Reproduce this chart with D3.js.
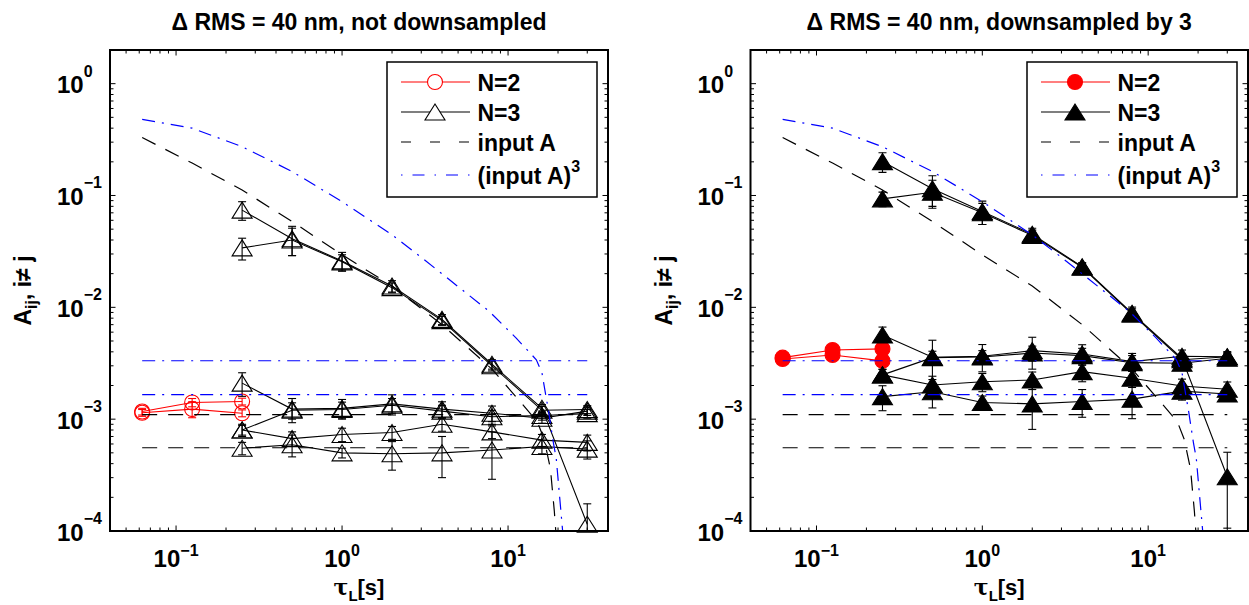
<!DOCTYPE html>
<html>
<head>
<meta charset="utf-8">
<script src="https://cdn.jsdelivr.net/npm/d3@7"></script>
<style>
  body { margin: 0; background: #fff; }
  svg text { font-family: "Liberation Sans", Arial, Helvetica, sans-serif; font-weight: bold; fill: #000; }
  svg text.tick { font-family: "Liberation Sans Narrow", "Arial Narrow", "Liberation Sans", sans-serif; }
</style>
</head>
<body>
<svg id="fig" width="1249" height="605"></svg>
<script>
// ---- sampling times (s) ----
const tauN2 = [0.0625, 0.125, 0.25];
const tauN3 = [0.25, 0.5, 1, 2, 4, 8, 16, 30];

// ---- not downsampled: off-diagonal A_ij ----
const rawN2 = [
  [1.17e-3, 1.41e-3, 1.44e-3],
  [1.14e-3, 1.23e-3, 1.13e-3]
];
const rawN2Err = [
  [0.8e-4, 1.2e-4, 1.0e-4],
  [0.8e-4, 2.0e-4, 0.8e-4]
];
const rawN3 = [
  [0.074, 0.041, 0.026, 0.0155, 0.0078, 0.0031, 0.00125, 0.000115],
  [0.034, 0.040, 0.0255, 0.0150, 0.0076, 0.0030, 0.00120, 0.00122],
  [0.0021, 0.00123, 0.00125, 0.00137, 0.00123, 0.00113, 0.00102, 0.00118],
  [0.00080, 0.00120, 0.00122, 0.00133, 0.00118, 0.00105, 0.00108, 0.00112],
  [0.00080, 0.00067, 0.00073, 0.00076, 0.00090, 0.00077, 0.00065, 0.00062],
  [0.00055, 0.00059, 0.00050, 0.00049, 0.00050, 0.00053, 0.00057, 0.00054]
];
const rawN3Err = [
  [0.014, 0.012, 0.005, 0.0018, 0.0008, 0.0003, 0.0001, 0.00006],
  [0.0075, 0.011, 0.004, 0.0015, 0.0007, 0.0003, 0.0001, 0.0001],
  [0.0005, 0.0003, 0.00025, 0.00028, 0.0002, 0.00018, 0.0001, 0.0001],
  [0.0001, 0.0002, 0.0002, 0.0002, 0.00015, 0.00015, 0.0001, 0.0001],
  [0.00008, 0.0001, 0.0001, 0.0001, 0.00012, 0.0001, 0.00008, 0.0001],
  [0.00007, 0.00013, 0.00005, 0.00014, 0.0002, 0.00024, 0.00008, 0.0001]
];

// ---- downsampled by 3: off-diagonal A_ij ----
const dsN2 = [
  [3.55e-3, 4.16e-3, 4.25e-3],
  [3.45e-3, 3.75e-3, 3.32e-3]
];
const dsN2Err = [
  [2e-4, 3e-4, 3e-4],
  [2e-4, 4e-4, 2e-4]
];
const dsN3 = [
  [0.201, 0.115, 0.072, 0.045, 0.0231, 0.00885, 0.0035, 0.000306],
  [0.0933, 0.107, 0.070, 0.044, 0.0228, 0.0087, 0.0034, 0.00362],
  [0.00566, 0.00358, 0.00365, 0.0041, 0.00383, 0.00327, 0.00365, 0.00362],
  [0.00249, 0.00355, 0.00360, 0.0039, 0.0037, 0.0032, 0.00316, 0.0035],
  [0.00249, 0.00202, 0.00216, 0.00224, 0.00266, 0.00232, 0.00198, 0.00185],
  [0.00159, 0.00176, 0.00141, 0.00137, 0.00144, 0.00151, 0.00178, 0.00168]
];
const dsN3Err = [
  [0.04, 0.035, 0.017, 0.006, 0.002, 0.0012, 0.0003, 0.0002],
  [0.014, 0.03, 0.015, 0.005, 0.002, 0.001, 0.0003, 0.0003],
  [0.001, 0.0015, 0.001, 0.0013, 0.0008, 0.0006, 0.0005, 0.0004],
  [0.0003, 0.0005, 0.0005, 0.0006, 0.0006, 0.0005, 0.0004, 0.0004],
  [0.0003, 0.0004, 0.0004, 0.0004, 0.0005, 0.0004, 0.0003, 0.0003],
  [0.0004, 0.0005, 0.0002, 0.00056, 0.0004, 0.0005, 0.0003, 0.0002]
];

// ---- input coupling curves ----
const inputTau = [0.0625, 0.125, 0.25, 0.5, 1, 2, 4, 8, 12, 15, 16.5, 18, 19, 19.6];
const inputA   = [0.33, 0.195, 0.112, 0.0585, 0.0295, 0.0155, 0.0070, 0.0028, 0.0014, 0.00095, 0.00066, 0.00036, 0.00015, 0.00008];
const cubeTau  = [0.0625, 0.125, 0.25, 0.5, 1, 2, 3, 5.3, 7.7, 11.2, 14.8, 16, 16.8, 17.5, 18.8, 19.5, 21.2, 21.6];
const inputA3  = [0.48, 0.40, 0.273, 0.164, 0.088, 0.0445, 0.028, 0.0143, 0.0092, 0.0053, 0.0034, 0.0026, 0.0017, 0.0012, 0.0006, 0.00045, 0.00011, 0.00008];
const levelTau    = [0.0625, 30];
const inputLevels = [1.10e-3, 5.55e-4];
const cubeLevels  = [3.33e-3, 1.66e-3];

const xDomain = [0.04, 40];
const yDomain = [1e-4, 2];
const xMajor = [0.1, 1, 10];
const yMajor = [1e-4, 1e-3, 1e-2, 1e-1, 1];

const legendLabels = ["N=2", "N=3", "input A", "(input A)"];

const panels = [
  { id: "raw", left: 110, right: 608, title: "Δ RMS = 40 nm, not downsampled",
    n2: rawN2, n2Err: rawN2Err, n3: rawN3, n3Err: rawN3Err, filled: false },
  { id: "ds", left: 750.5, right: 1248, title: "Δ RMS = 40 nm, downsampled by 3",
    n2: dsN2, n2Err: dsN2Err, n3: dsN3, n3Err: dsN3Err, filled: true }
];

const TOP = 50, BOTTOM = 531;
const RED = "#ff0000", BLUE = "#0000ff";
const DASH = "15,11", DASHDOT = "13,7,2,7";

const svg = d3.select("#fig");

function triPath(cx, cy) {
  return `M${cx},${cy - 8}L${cx + 10},${cy + 8}L${cx - 10},${cy + 8}Z`;
}

panels.forEach(p => {
  const x = d3.scaleLog().domain(xDomain).range([p.left, p.right]);
  const y = d3.scaleLog().domain(yDomain).range([BOTTOM, TOP]);
  const g = svg.append("g");

  g.append("clipPath").attr("id", "clip-" + p.id)
    .append("rect").attr("x", p.left).attr("y", TOP)
    .attr("width", p.right - p.left).attr("height", BOTTOM - TOP);
  const plot = g.append("g").attr("clip-path", `url(#clip-${p.id})`);
  const line = d3.line().x(d => x(d[0])).y(d => y(d[1]));

  // error bars + connecting lines
  function series(taus, vals, errs, color) {
    vals.forEach((row, i) => {
      const pts = taus.map((t, k) => [t, row[k]]);
      plot.append("path").attr("d", line(pts))
        .attr("fill", "none").attr("stroke", color).attr("stroke-width", 1.1);
      taus.forEach((t, k) => {
        const v = row[k], e = errs[i][k];
        const lo = Math.max(v - e, 1e-6), hi = v + e;
        const cx = x(t);
        const eg = plot.append("g").attr("stroke", color).attr("stroke-width", 1.1);
        eg.append("line").attr("x1", cx).attr("x2", cx).attr("y1", y(lo)).attr("y2", y(hi));
        eg.append("line").attr("x1", cx - 4).attr("x2", cx + 4).attr("y1", y(lo)).attr("y2", y(lo));
        eg.append("line").attr("x1", cx - 4).attr("x2", cx + 4).attr("y1", y(hi)).attr("y2", y(hi));
      });
    });
  }
  series(tauN2, p.n2, p.n2Err, RED);
  series(tauN3, p.n3, p.n3Err, "#000");

  // markers (not clipped)
  const mk = g.append("g");
  p.n2.forEach(row => row.forEach((v, k) => {
    mk.append("circle").attr("cx", x(tauN2[k])).attr("cy", y(v)).attr("r", 7.5)
      .attr("fill", p.filled ? RED : "none").attr("stroke", RED).attr("stroke-width", 1.1);
  }));
  p.n3.forEach(row => row.forEach((v, k) => {
    mk.append("path").attr("d", triPath(x(tauN3[k]), y(v)))
      .attr("fill", p.filled ? "#000" : "none").attr("stroke", "#000").attr("stroke-width", 1.1);
  }));

  // input A (dashed) and (input A)^3 (dash-dot)
  const ref = g.append("g").attr("clip-path", `url(#clip-${p.id})`);
  ref.append("path").attr("d", line(inputTau.map((t, i) => [t, inputA[i]])))
    .attr("fill", "none").attr("stroke", "#000").attr("stroke-width", 1.2).attr("stroke-dasharray", DASH);
  inputLevels.forEach(v => {
    ref.append("path").attr("d", line(levelTau.map(t => [t, v])))
      .attr("fill", "none").attr("stroke", "#000").attr("stroke-width", 1.2).attr("stroke-dasharray", DASH);
  });
  ref.append("path").attr("d", line(cubeTau.map((t, i) => [t, inputA3[i]])))
    .attr("fill", "none").attr("stroke", BLUE).attr("stroke-width", 1.2).attr("stroke-dasharray", DASHDOT);
  cubeLevels.forEach(v => {
    ref.append("path").attr("d", line(levelTau.map(t => [t, v])))
      .attr("fill", "none").attr("stroke", BLUE).attr("stroke-width", 1.2).attr("stroke-dasharray", DASHDOT);
  });

  // ticks on all four sides, pointing inward
  const tk = g.append("g").attr("stroke", "#000").attr("stroke-width", 1);
  x.ticks().forEach(t => {
    const major = xMajor.some(m => Math.abs(m - t) / m < 1e-6);
    const len = major ? 5.5 : 3.5, cx = x(t);
    tk.append("line").attr("x1", cx).attr("x2", cx).attr("y1", BOTTOM).attr("y2", BOTTOM - len);
    tk.append("line").attr("x1", cx).attr("x2", cx).attr("y1", TOP).attr("y2", TOP + len);
  });
  y.ticks().forEach(t => {
    const major = yMajor.some(m => Math.abs(m - t) / m < 1e-6);
    const len = major ? 5.5 : 3.5, cy = y(t);
    tk.append("line").attr("x1", p.left).attr("x2", p.left + len).attr("y1", cy).attr("y2", cy);
    tk.append("line").attr("x1", p.right).attr("x2", p.right - len).attr("y1", cy).attr("y2", cy);
  });

  // frame
  g.append("rect").attr("x", p.left).attr("y", TOP)
    .attr("width", p.right - p.left).attr("height", BOTTOM - TOP)
    .attr("fill", "none").attr("stroke", "#000").attr("stroke-width", 2);

  // tick labels
  const expText = t => String(Math.round(Math.log10(t))).replace("-", "\u2212");
  xMajor.forEach(t => {
    const tx = g.append("text").attr("class", "tick").attr("x", x(t)).attr("y", 567)
      .attr("text-anchor", "middle").style("font-size", "24px");
    tx.append("tspan").text("10");
    tx.append("tspan").attr("dy", -11).style("font-size", "16px").text(expText(t));
  });
  yMajor.forEach(t => {
    const ty = g.append("text").attr("class", "tick").attr("x", p.left - 53).attr("y", y(t) + 9.5)
      .attr("text-anchor", "start").style("font-size", "24px");
    ty.append("tspan").text("10");
    ty.append("tspan").attr("dy", -16.5).style("font-size", "16px").text(expText(t));
  });

  // axis titles
  const cxMid = (p.left + p.right) / 2;
  const xt = g.append("text").attr("x", cxMid).attr("y", 595).attr("text-anchor", "middle").style("font-size", "22px");
  xt.append("tspan").style("font-family", "DejaVu Serif, serif").text("τ");
  xt.append("tspan").attr("dy", 6).style("font-size", "15px").text("L");
  xt.append("tspan").attr("dy", -6).text("[s]");

  const yx = p.left - 79, yy = (TOP + BOTTOM) / 2;
  const yt = g.append("text").attr("transform", `translate(${yx},${yy}) rotate(-90)`)
    .attr("text-anchor", "middle").style("font-size", "23px");
  yt.append("tspan").text("A");
  yt.append("tspan").attr("dy", 6).style("font-size", "16px").text("ij");
  yt.append("tspan").attr("dy", -6).text(", i\u2260 j");

  // title
  g.append("text").attr("x", cxMid).attr("y", 29.5).attr("text-anchor", "middle")
    .style("font-size", "23px").text(p.title);

  // legend
  const lgL = p.right - 221, lgT = 62, lgW = 210, lgH = 135;
  const lg = g.append("g");
  lg.append("rect").attr("x", lgL).attr("y", lgT).attr("width", lgW).attr("height", lgH)
    .attr("fill", "#fff").attr("stroke", "#000").attr("stroke-width", 1.5);
  const rowY = [82, 112, 142, 175];
  const sx0 = lgL + 14, sx1 = lgL + 83, sxm = lgL + 48, tx0 = lgL + 90.5;
  const styles = [
    { color: RED, dash: null },
    { color: "#000", dash: null },
    { color: "#000", dash: "10,19" },
    { color: BLUE, dash: "1.5,10,12,10" }
  ];
  styles.forEach((s, i) => {
    lg.append("line").attr("x1", sx0).attr("x2", sx1).attr("y1", rowY[i]).attr("y2", rowY[i])
      .attr("stroke", s.color).attr("stroke-width", i > 1 ? 1.2 : 1.1)
      .attr("stroke-dasharray", s.dash);
  });
  lg.append("circle").attr("cx", sxm).attr("cy", rowY[0]).attr("r", 7.5)
    .attr("fill", p.filled ? RED : "#fff").attr("stroke", RED).attr("stroke-width", 1.1);
  lg.append("path").attr("d", triPath(sxm, rowY[1]))
    .attr("fill", p.filled ? "#000" : "#fff").attr("stroke", "#000").attr("stroke-width", 1.1);
  legendLabels.forEach((lab, i) => {
    const t = lg.append("text").attr("x", tx0).attr("y", rowY[i] + 8.5).style("font-size", "23px").text(lab);
    if (i === 3) t.append("tspan").attr("dy", -12).style("font-size", "16px").text("3");
  });
});
</script>
</body>
</html>
